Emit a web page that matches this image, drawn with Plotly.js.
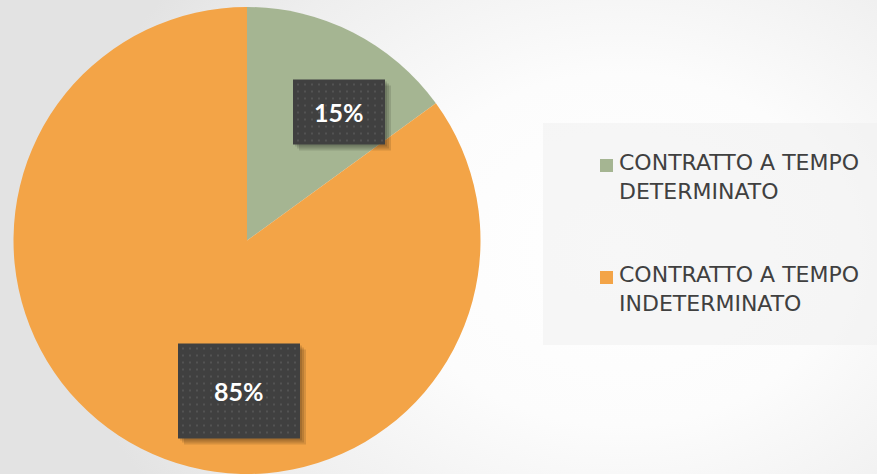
<!DOCTYPE html>
<html>
<head>
<meta charset="utf-8">
<script src="https://cdn.plot.ly/plotly-3.0.1.min.js"></script>
<style>
html,body{margin:0;padding:0;}
body{width:877px;height:474px;overflow:hidden;
background: radial-gradient(ellipse 560px 440px at 620px 250px, #ffffff 0%, #fcfcfc 40%, #eeeeee 78%, #e3e3e3 100%);}
#chart{width:877px;height:474px;}
</style>
</head>
<body>
<div id="chart"></div>
<script>
const categories = ["CONTRATTO A TEMPO<br>DETERMINATO", "CONTRATTO A TEMPO<br>INDETERMINATO"];
const values = [15, 85];
const sliceColors = ["#a5b592", "#f3a447"];
const valueLabels = ["15%", "85%"];

const W = 877, H = 474;
const dom = {x: [13/W, 481/W], y: [0, 467/H]};

const trace = {
  type: "pie",
  labels: categories,
  values: values,
  marker: {colors: sliceColors, line: {width: 0}},
  sort: false,
  direction: "clockwise",
  rotation: 0,
  textinfo: "none",
  hoverinfo: "none",
  showlegend: false,
  domain: dom
};

// label box placement (pixels) and sizes
const labelCenters = [[339, 112], [239, 391]];
const boxSizes = [[92, 65], [122, 95]];
const annotations = [];
const shapes = [];
values.forEach((v, i) => {
  const [px, py] = labelCenters[i];
  const [bw, bh] = boxSizes[i];
  for (let s = 6; s >= 2; s -= 2) {
    shapes.push({type: "rect", xref: "paper", yref: "paper",
      x0: (px - bw / 2 + s) / W, x1: (px + bw / 2 + s) / W,
      y0: (H - (py + bh / 2 + s)) / H, y1: (H - (py - bh / 2 + s)) / H,
      fillcolor: "rgba(0,0,0,0.12)", line: {width: 0}});
  }
  shapes.push({type: "rect", xref: "paper", yref: "paper",
    x0: (px - bw / 2) / W, x1: (px + bw / 2) / W,
    y0: (H - (py + bh / 2)) / H, y1: (H - (py - bh / 2)) / H,
    fillcolor: "#404040", line: {width: 0}});
  for (let dx = -bw / 2 + 4; dx < bw / 2 - 2; dx += 7) {
    for (let dy = -bh / 2 + 4; dy < bh / 2 - 2; dy += 7) {
      shapes.push({type: "rect", xref: "paper", yref: "paper",
        x0: (px + dx) / W, x1: (px + dx + 2) / W,
        y0: (H - (py + dy + 2)) / H, y1: (H - (py + dy)) / H,
        fillcolor: "#535353", line: {width: 0}});
    }
  }
  annotations.push({xref: "paper", yref: "paper", x: px / W, y: (H - py) / H,
    text: "<b>" + valueLabels[i] + "</b>", showarrow: false,
    font: {family: "Lato, 'DejaVu Sans', sans-serif", size: 25, color: "#ffffff"},
    xanchor: "center", yanchor: "middle"});
});

// legend
shapes.push({type: "rect", xref: "paper", yref: "paper",
  x0: 543 / W, x1: 1, y0: (H - 345) / H, y1: (H - 123) / H,
  fillcolor: "rgba(238,238,238,0.45)", line: {width: 0}, layer: "below"});
const legendSym = [165.5, 277.5];
const legendText = [177, 289];
categories.forEach((c, i) => {
  const ly = legendSym[i];
  shapes.push({type: "rect", xref: "paper", yref: "paper",
    x0: 600 / W, x1: 613 / W, y0: (H - (ly + 6.5)) / H, y1: (H - (ly - 6.5)) / H,
    fillcolor: sliceColors[i], line: {width: 0}});
  annotations.push({xref: "paper", yref: "paper", x: 617 / W, y: (H - legendText[i]) / H,
    text: c, showarrow: false, align: "left",
    font: {family: "'DejaVu Sans', sans-serif", size: 22, color: "#404040"},
    xanchor: "left", yanchor: "middle"});
});

const layout = {
  width: W, height: H,
  margin: {l: 0, r: 0, t: 0, b: 0},
  paper_bgcolor: "rgba(0,0,0,0)",
  plot_bgcolor: "rgba(0,0,0,0)",
  showlegend: false,
  shapes: shapes,
  annotations: annotations
};
Plotly.newPlot("chart", [trace], layout, {displayModeBar: false, staticPlot: true});
</script>
</body>
</html>
